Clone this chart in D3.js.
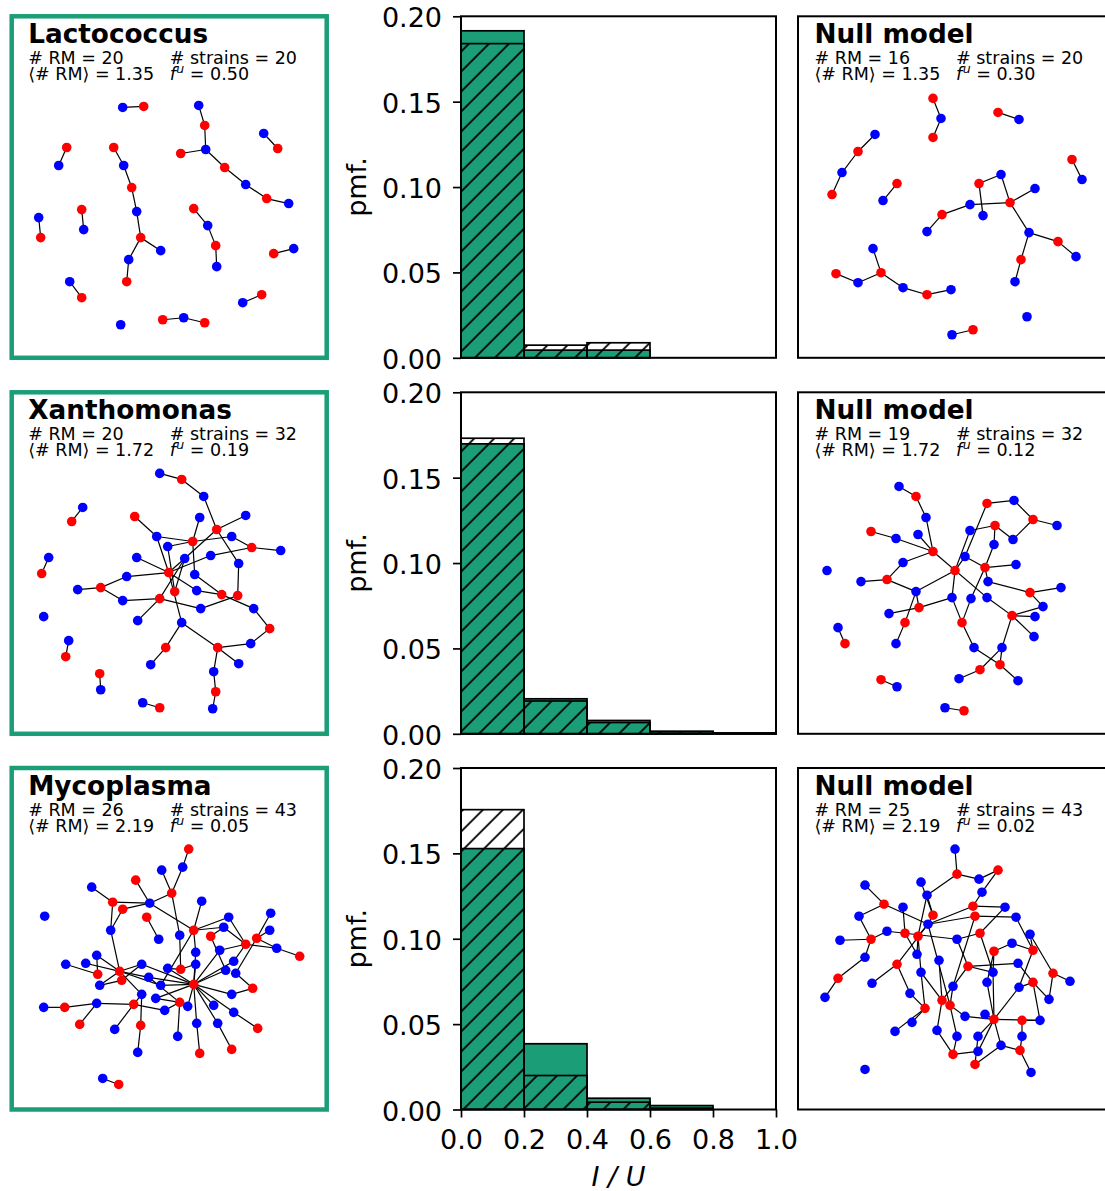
<!DOCTYPE html>
<html>
<head>
<meta charset="utf-8">
<script src="https://cdn.jsdelivr.net/npm/d3@7"></script>
<style>
body { margin: 0; background: #fff; }
svg { display: block; font-family: "DejaVu Sans", sans-serif; }
</style>
</head>
<body>
<svg width="1105" height="1191"></svg>
<script>
// histogram values (pmf per bin of I/U)
var binEdges = [0, 0.2, 0.4, 0.6, 0.8, 1.0];
var yTicks = [0, 0.05, 0.10, 0.15, 0.20];
var xTicks = [0, 0.2, 0.4, 0.6, 0.8, 1.0];

var genera = ["Lactococcus", "Xanthomonas", "Mycoplasma"];
var nRM = [20, 20, 26];
var nRMNull = [16, 19, 25];
var nStrains = [20, 32, 43];
var meanRM = ["1.35", "1.72", "2.19"];
var fU = ["0.50", "0.19", "0.05"];
var fUNull = ["0.30", "0.12", "0.02"];

var lactoPmf = [0.1915, 0.0045, 0.0045, 0, 0];
var lactoPmfNull = [0.184, 0.0074, 0.0088, 0, 0];
var xanthoPmf = [0.1698, 0.0205, 0.0078, 0.0015, 0.0005];
var xanthoPmfNull = [0.1731, 0.0192, 0.0066, 0.0012, 0.0004];
var mycoPmf = [0.1528, 0.0385, 0.0066, 0.0023, 0];
var mycoPmfNull = [0.1756, 0.0199, 0.0043, 0.0008, 0];

// network layouts: [x, y, kind]  R = RM system, S = strain
var lactoNodes = [
[111,91,"S"],[132,90,"R"],[187,89,"S"],[193,109,"R"],[194,133,"S"],[169,137,"R"],[213,151,"R"],[234,168,"S"],[255,182,"R"],[277,187,"S"],
[252,117,"S"],[266,132,"R"],[55,131,"R"],[47,149,"S"],[102,131,"R"],[112,149,"S"],[120,171,"R"],[125,195,"S"],[129,221,"R"],[149,234,"S"],
[117,243,"S"],[115,265,"R"],[27,201,"S"],[29,221,"R"],[70,193,"R"],[72,213,"S"],[182,192,"R"],[196,209,"S"],[204,229,"R"],[205,250,"S"],
[262,237,"R"],[282,232,"S"],[58,265,"S"],[70,281,"R"],[231,286,"S"],[250,278,"R"],[109,308,"S"],[151,303,"R"],[172,301,"S"],[193,306,"R"]
];
var lactoEdges = [[1,2],[3,4],[4,5],[5,6],[5,7],[7,8],[8,9],[9,10],[11,12],[13,14],[15,16],[16,17],[17,18],[18,19],[19,20],[19,21],[21,22],
[23,24],[25,26],[27,28],[28,29],[29,30],[31,32],[33,34],[35,36],[38,39],[39,40]];

var lactoNullNodes = [
[135,82,"R"],[143,102,"S"],[135,121,"R"],[200,96,"R"],[221,103,"S"],[77,118,"S"],[60,135,"R"],[44,156,"S"],[34,178,"R"],[99,167,"R"],
[85,184,"S"],[274,143,"R"],[284,163,"S"],[181,167,"R"],[203,158,"S"],[237,172,"S"],[212,186,"R"],[172,188,"S"],[185,199,"S"],[144,198,"R"],
[129,215,"S"],[231,216,"S"],[260,225,"R"],[278,240,"S"],[223,243,"R"],[217,265,"S"],[75,232,"S"],[83,256,"R"],[38,257,"R"],[60,266,"S"],
[105,271,"S"],[129,278,"R"],[153,273,"S"],[229,300,"S"],[154,318,"S"],[175,313,"R"]
];
var lactoNullEdges = [[1,2],[2,3],[4,5],[6,7],[7,8],[8,9],[10,11],[12,13],[14,15],[15,17],[16,17],[17,18],[14,19],[18,20],[20,21],[17,22],
[22,23],[23,24],[22,25],[25,26],[27,28],[28,30],[30,29],[28,31],[31,32],[32,33],[35,36]];

var xanthoNodes = [
[148,81,"S"],[170,87,"R"],[192,104,"S"],[71,115,"S"],[60,129,"R"],[123,124,"R"],[188,125,"S"],[234,123,"S"],[205,137,"R"],[145,144,"S"],
[181,149,"R"],[220,144,"S"],[156,154,"S"],[240,155,"R"],[269,158,"S"],[37,165,"S"],[30,181,"R"],[125,165,"S"],[173,166,"S"],[199,163,"S"],
[227,171,"S"],[157,180,"R"],[183,182,"S"],[115,184,"S"],[89,195,"R"],[66,197,"S"],[163,199,"R"],[185,198,"S"],[210,202,"R"],[226,203,"R"],
[148,206,"R"],[111,208,"S"],[189,216,"S"],[242,216,"S"],[32,224,"S"],[126,228,"S"],[170,230,"S"],[258,236,"R"],[57,248,"S"],[54,264,"R"],
[154,255,"R"],[206,255,"R"],[239,251,"S"],[139,272,"S"],[227,271,"S"],[202,279,"S"],[88,281,"R"],[89,297,"S"],[204,299,"R"],[201,316,"S"],
[131,310,"S"],[148,315,"R"]
];
var xanthoEdges = [[1,2],[2,3],[3,9],[9,8],[9,19],[9,21],[4,5],[6,10],[11,7],[11,10],[11,12],[11,23],[11,13],[14,12],[14,15],[14,20],
[16,17],[22,18],[22,24],[22,10],[22,19],[22,28],[22,37],[22,20],[27,13],[27,19],[29,28],[29,34],[29,23],[30,21],[30,33],[31,32],
[31,36],[31,33],[31,19],[25,24],[25,26],[25,32],[38,34],[38,43],[42,43],[42,37],[42,45],[42,46],[41,37],[41,44],[49,46],[49,50],
[40,39],[47,48],[52,51]];

var xanthoNullNodes = [
[101,94,"S"],[118,104,"R"],[128,125,"S"],[189,111,"R"],[216,108,"S"],[235,127,"R"],[259,133,"S"],[73,139,"R"],[98,146,"S"],[120,142,"S"],
[172,138,"S"],[197,133,"R"],[215,147,"S"],[196,152,"S"],[135,159,"R"],[167,164,"S"],[105,170,"S"],[187,175,"R"],[218,172,"S"],[157,178,"R"],
[29,178,"S"],[63,189,"S"],[89,187,"R"],[190,189,"S"],[232,200,"R"],[263,195,"S"],[118,199,"S"],[154,205,"S"],[173,206,"S"],[189,205,"S"],
[121,215,"R"],[91,221,"S"],[245,214,"S"],[214,223,"R"],[237,224,"S"],[107,230,"R"],[164,230,"R"],[40,235,"S"],[47,251,"R"],[236,244,"S"],
[98,251,"S"],[176,255,"S"],[204,255,"S"],[202,272,"R"],[182,277,"R"],[161,286,"S"],[220,288,"S"],[83,287,"R"],[99,294,"S"],[147,315,"S"],
[166,318,"R"]
];
var xanthoNullEdges = [[1,2],[2,3],[3,15],[4,5],[5,6],[6,7],[6,13],[4,16],[16,20],[16,18],[12,11],[12,13],[12,14],[14,18],[8,9],[9,15],
[10,15],[15,17],[15,30],[18,19],[18,24],[18,29],[20,11],[20,28],[20,27],[23,22],[23,17],[23,27],[31,27],[31,28],[31,32],[36,27],
[36,41],[37,28],[37,29],[37,42],[25,26],[25,24],[25,33],[34,35],[34,33],[34,40],[34,43],[34,30],[44,43],[44,47],[44,42],[45,46],
[45,43],[39,38],[48,49],[51,50]];

var mycoNodes = [
[177,81,"R"],[171,99,"S"],[150,102,"S"],[124,112,"R"],[80,119,"S"],[160,125,"R"],[101,134,"R"],[138,135,"S"],[190,133,"S"],[111,141,"R"],
[33,148,"S"],[135,149,"R"],[217,149,"S"],[259,145,"S"],[212,159,"S"],[258,162,"S"],[182,162,"R"],[99,162,"S"],[168,167,"S"],[199,168,"R"],
[147,171,"S"],[245,170,"R"],[234,176,"R"],[265,180,"S"],[208,182,"S"],[184,184,"S"],[288,188,"R"],[85,187,"S"],[54,196,"S"],[74,195,"S"],
[130,196,"S"],[156,200,"S"],[169,201,"R"],[184,196,"S"],[222,193,"S"],[214,202,"S"],[224,205,"S"],[108,203,"R"],[86,206,"R"],[110,212,"R"],
[137,209,"S"],[88,217,"S"],[149,217,"S"],[182,216,"R"],[241,220,"R"],[220,226,"S"],[130,226,"S"],[144,230,"S"],[168,234,"R"],[85,235,"S"],
[122,236,"R"],[32,239,"S"],[53,239,"R"],[176,238,"S"],[202,237,"S"],[153,242,"S"],[222,244,"S"],[68,256,"R"],[103,261,"S"],[129,257,"R"],
[185,255,"S"],[206,255,"S"],[246,260,"R"],[166,268,"S"],[220,281,"R"],[188,285,"R"],[126,284,"S"],[91,310,"S"],[107,316,"R"]
];
var mycoEdges = [[1,2],[6,2],[6,3],[6,8],[6,19],[4,8],[7,5],[7,8],[7,18],[10,8],[10,18],[17,8],[12,21],[17,9],[17,13],[17,15],[17,26],
[17,43],[23,13],[23,15],[23,24],[23,25],[23,35],[22,14],[22,16],[22,24],[22,37],[27,24],[20,15],[20,36],[44,26],[44,25],[44,35],
[44,36],[44,46],[44,55],[44,62],[44,61],[44,54],[44,32],[44,43],[44,41],[44,31],[44,48],[44,57],[44,34],[38,28],[38,18],[38,30],
[38,31],[38,41],[38,42],[38,47],[38,43],[39,28],[39,29],[40,31],[40,42],[33,32],[33,34],[33,19],[45,46],[45,37],[49,48],[49,64],
[49,56],[49,41],[51,50],[51,47],[51,59],[51,56],[53,52],[53,50],[58,50],[60,47],[60,67],[63,57],[65,62],[66,61],[69,68]];

var mycoNullNodes = [
[157,81,"S"],[159,106,"R"],[200,102,"R"],[181,111,"S"],[123,114,"S"],[67,117,"S"],[184,124,"S"],[129,127,"S"],[86,136,"R"],[105,139,"S"],
[175,138,"R"],[207,139,"S"],[135,147,"R"],[177,148,"R"],[61,148,"S"],[218,149,"S"],[130,156,"S"],[89,163,"S"],[107,165,"R"],[182,165,"R"],
[120,168,"R"],[232,166,"S"],[42,172,"S"],[73,171,"R"],[159,171,"S"],[214,175,"S"],[196,183,"R"],[235,182,"R"],[119,186,"S"],[67,189,"S"],
[141,192,"S"],[99,196,"R"],[170,198,"R"],[220,195,"S"],[123,204,"S"],[195,204,"S"],[255,205,"R"],[40,210,"R"],[74,215,"S"],[189,214,"S"],
[235,214,"R"],[272,213,"S"],[155,218,"S"],[221,219,"S"],[27,229,"S"],[112,225,"S"],[144,232,"R"],[152,237,"R"],[251,231,"S"],[127,240,"R"],
[167,248,"S"],[187,246,"S"],[196,251,"R"],[224,252,"R"],[242,252,"S"],[114,254,"S"],[97,263,"S"],[139,262,"S"],[159,268,"S"],[180,268,"S"],
[224,268,"S"],[203,277,"S"],[155,286,"R"],[180,283,"S"],[222,282,"R"],[177,296,"R"],[233,304,"S"],[67,301,"S"]
];
var mycoNullEdges = [[1,2],[2,4],[2,8],[3,4],[3,7],[11,7],[13,5],[9,6],[9,15],[9,17],[24,15],[24,23],[24,18],[24,30],[19,18],[19,10],
[19,25],[19,29],[21,8],[21,17],[21,29],[21,35],[13,8],[13,17],[11,17],[11,12],[14,17],[14,16],[14,43],[20,12],[20,25],[20,36],
[27,26],[27,36],[27,40],[28,22],[28,26],[28,16],[28,44],[32,39],[32,46],[32,17],[33,34],[33,36],[33,43],[33,25],[37,42],[37,49],
[37,22],[38,30],[38,45],[41,34],[41,49],[41,55],[41,44],[47,31],[47,43],[47,58],[47,35],[48,43],[48,51],[48,59],[48,17],[50,46],
[50,56],[50,35],[50,57],[53,40],[53,36],[53,52],[53,51],[53,60],[53,62],[53,44],[53,55],[53,64],[54,55],[54,61],[63,58],[63,59],
[63,64],[65,62],[65,61],[65,67],[66,60],[66,62]];

var svg = d3.select("svg");
var green = "#1b9e77";
var panelW = 315, panelH = 341.5;
var rowTop = [16.3, 392.3, 768];
var leftX = 11.7, histX = 461, nullX = 798;

var defs = svg.append("defs");
defs.append("pattern")
    .attr("id", "hatch")
    .attr("patternUnits", "userSpaceOnUse")
    .attr("x", 12.7)
    .attr("width", 20)
    .attr("height", 20)
  .append("path")
    .attr("d", "M-2,2 L2,-2 M0,20 L20,0 M18,22 L22,18")
    .attr("stroke", "#000")
    .attr("stroke-width", 1.8);

function drawNetwork(x0, y0, nodes, edges, frameColor, frameWidth, title, rm, strains, mean, fval) {
    var sx = d3.scaleLinear().domain([0, 315]).range([x0, x0 + panelW]);
    var sy = d3.scaleLinear().domain([0, 341]).range([y0, y0 + panelH]);
    var g = svg.append("g");

    g.selectAll("line")
      .data(edges)
      .enter().append("line")
        .attr("x1", function(d) { return sx(nodes[d[0] - 1][0]); })
        .attr("y1", function(d) { return sy(nodes[d[0] - 1][1]); })
        .attr("x2", function(d) { return sx(nodes[d[1] - 1][0]); })
        .attr("y2", function(d) { return sy(nodes[d[1] - 1][1]); })
        .attr("stroke", "#000")
        .attr("stroke-width", 1.2);

    g.selectAll("circle")
      .data(nodes)
      .enter().append("circle")
        .attr("cx", function(d) { return sx(d[0]); })
        .attr("cy", function(d) { return sy(d[1]); })
        .attr("r", 4.8)
        .attr("fill", function(d) { return d[2] === "R" ? "#ff0000" : "#0000ff"; });

    g.append("rect")
        .attr("x", x0).attr("y", y0)
        .attr("width", panelW).attr("height", panelH)
        .attr("fill", "none")
        .attr("stroke", frameColor)
        .attr("stroke-width", frameWidth);

    g.append("text")
        .attr("x", x0 + 16.5).attr("y", y0 + 26.5)
        .attr("font-size", 26.3)
        .attr("font-weight", "bold")
        .text(title);
    g.append("text")
        .attr("x", x0 + 16.5).attr("y", y0 + 47.5)
        .attr("font-size", 17.5)
        .text("# RM = " + rm);
    g.append("text")
        .attr("x", x0 + 158).attr("y", y0 + 47.5)
        .attr("font-size", 17.5)
        .text("# strains = " + strains);
    g.append("text")
        .attr("x", x0 + 16.5).attr("y", y0 + 64)
        .attr("font-size", 17.5)
        .text("\u27E8# RM\u27E9 = " + mean);
    var t = g.append("text")
        .attr("x", x0 + 158).attr("y", y0 + 64)
        .attr("font-size", 17.5);
    t.append("tspan").attr("font-style", "italic").text("f");
    t.append("tspan").attr("font-style", "italic").attr("font-size", 12.5)
        .attr("dy", -7).attr("dx", 0.5).text("u");
    t.append("tspan").attr("dy", 7).text(" = " + fval);
}

function drawHist(y0, pmf, pmfNull, showX) {
    var x = d3.scaleLinear().domain([0, 1]).range([histX, histX + panelW]);
    var y = d3.scaleLinear().domain([0, 0.2]).range([y0 + panelH, y0]);
    var g = svg.append("g");

    var bins = pmf.map(function(v, i) {
        return {x0: binEdges[i], x1: binEdges[i + 1], v: v, n: pmfNull[i]};
    });

    g.selectAll("rect.data")
      .data(bins)
      .enter().append("rect")
        .attr("class", "data")
        .attr("x", function(d) { return x(d.x0); })
        .attr("width", function(d) { return x(d.x1) - x(d.x0); })
        .attr("y", function(d) { return y(d.v); })
        .attr("height", function(d) { return y(0) - y(d.v); })
        .attr("fill", green)
        .attr("stroke", "#000")
        .attr("stroke-width", 1.7);

    g.selectAll("rect.null")
      .data(bins)
      .enter().append("rect")
        .attr("class", "null")
        .attr("x", function(d) { return x(d.x0); })
        .attr("width", function(d) { return x(d.x1) - x(d.x0); })
        .attr("y", function(d) { return y(d.n); })
        .attr("height", function(d) { return y(0) - y(d.n); })
        .attr("fill", "url(#hatch)")
        .attr("stroke", "#000")
        .attr("stroke-width", 1.7);

    g.append("rect")
        .attr("x", histX).attr("y", y0)
        .attr("width", panelW).attr("height", panelH)
        .attr("fill", "none")
        .attr("stroke", "#000")
        .attr("stroke-width", 2);

    var ya = g.append("g")
        .attr("transform", "translate(" + histX + ",0)")
        .call(d3.axisLeft(y)
            .tickValues(yTicks)
            .tickSize(8)
            .tickPadding(11)
            .tickFormat(d3.format(".2f")));
    ya.select(".domain").remove();
    ya.selectAll("line").attr("stroke-width", 1.7);
    ya.selectAll("text")
        .attr("font-size", 27)
        .attr("font-family", "DejaVu Sans")
        .attr("dy", "0.39em")
        .attr("fill", "#000");

    g.append("text")
        .attr("transform", "translate(366," + (y0 + panelH / 2) + ") rotate(-90)")
        .attr("text-anchor", "middle")
        .attr("font-size", 27)
        .text("pmf.");

    if (showX) {
        var xa = g.append("g")
            .attr("transform", "translate(0," + (y0 + panelH) + ")")
            .call(d3.axisBottom(x)
                .tickValues(xTicks)
                .tickSize(8)
                .tickPadding(12)
                .tickFormat(d3.format(".1f")));
        xa.select(".domain").remove();
        xa.selectAll("line").attr("stroke-width", 1.7);
        xa.selectAll("text")
            .attr("font-size", 27)
            .attr("font-family", "DejaVu Sans")
            .attr("fill", "#000");

        g.append("text")
            .attr("x", histX + panelW / 2)
            .attr("y", 1186)
            .attr("text-anchor", "middle")
            .attr("font-size", 27)
            .attr("font-style", "italic")
            .text("I / U");
    }
}

var realNets = [[lactoNodes, lactoEdges], [xanthoNodes, xanthoEdges], [mycoNodes, mycoEdges]];
var nullNets = [[lactoNullNodes, lactoNullEdges], [xanthoNullNodes, xanthoNullEdges], [mycoNullNodes, mycoNullEdges]];
var pmfs = [[lactoPmf, lactoPmfNull], [xanthoPmf, xanthoPmfNull], [mycoPmf, mycoPmfNull]];

genera.forEach(function(name, i) {
    drawNetwork(leftX, rowTop[i], realNets[i][0], realNets[i][1], green, 4.5,
        name, nRM[i], nStrains[i], meanRM[i], fU[i]);
    drawHist(rowTop[i], pmfs[i][0], pmfs[i][1], i === 2);
    drawNetwork(nullX, rowTop[i], nullNets[i][0], nullNets[i][1], "#000", 2,
        "Null model", nRMNull[i], nStrains[i], meanRM[i], fUNull[i]);
});
</script>
</body>
</html>
